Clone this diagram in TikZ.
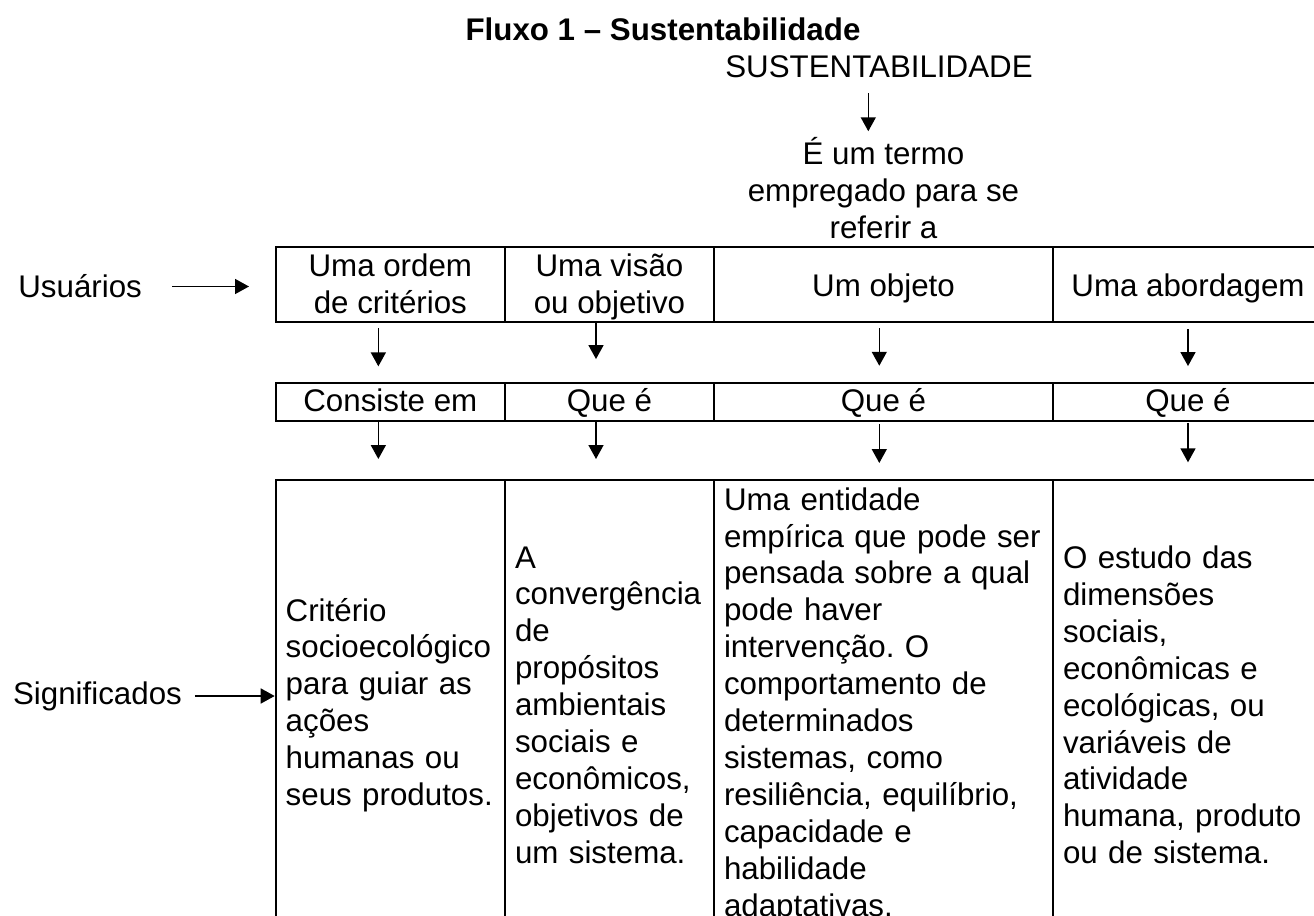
\documentclass[tikz,border=0pt]{standalone}
\usepackage{fontspec}
\setmainfont{Liberation Sans}
\usetikzlibrary{arrows.meta}
\newcommand{\corpo}{\fontsize{15.65}{18.45}\selectfont}
\newcommand{\apoioA}{\rule[-3.4pt]{0pt}{19pt}}
\newcommand{\apoioB}{\rule[-3.4pt]{0pt}{16.3pt}}
\newcommand{\apoioC}{\rule[-3.4pt]{0pt}{17.4pt}}
\hyphenpenalty=10000
\exhyphenpenalty=10000
\frenchspacing

\begin{document}
\begin{tikzpicture}[x=0.5pt,y=-0.5pt,
  celula/.style={draw, line width=1pt, inner sep=0pt, font=\corpo, align=center},
  texto/.style={inner sep=0pt, font=\corpo},
  seta/.style={line width=0.8pt, -{Triangle[length=7pt,width=7.5pt]}}]
\useasboundingbox (0,0) rectangle (1314,916);
\clip (0,0) rectangle (1314,916);

\node[texto, font=\corpo\bfseries, anchor=base] (titulo) at (663,40.5) {Fluxo 1 – Sustentabilidade};
\node[texto, anchor=base] (sust) at (879,77.3) {SUSTENTABILIDADE};
\node[texto, align=center, anchor=south] (termo) at (883.5,239.3) {É um termo\\empregado para se\\referir a};
\draw[seta] ([xshift=-5.35pt,yshift=-7.7pt]sust.south) -- ([xshift=-7.6pt,yshift=3pt]termo.north);

\node[celula, minimum width=114.65pt, minimum height=37.2pt] (u1) at (390.35,284.5) {\apoioC Uma ordem\\de critérios\apoioC};
\node[celula, minimum width=104.5pt, minimum height=37.2pt] (u2) at (609.5,284.5) {\apoioC Uma visão\\ou objetivo\apoioC};
\node[celula, minimum width=169.5pt, minimum height=37.2pt] (u3) at (883.5,284.5) {\apoioA Um objeto};
\node[celula, minimum width=135pt, minimum height=37.2pt] (u4) at (1188,284.5) {\apoioA Uma abordagem};

\node[celula, minimum width=114.65pt, minimum height=18.85pt] (q1) at (390.35,402.2) {\apoioB Consiste em};
\node[celula, minimum width=104.5pt, minimum height=18.85pt] (q2) at (609.5,402.2) {\apoioB Que é};
\node[celula, minimum width=169.5pt, minimum height=18.85pt] (q3) at (883.5,402.2) {\apoioB Que é};
\node[celula, minimum width=135pt, minimum height=18.85pt] (q4) at (1188,402.2) {\apoioB Que é};

\node[celula, align=left, text width=104.65pt, minimum width=114.65pt, minimum height=225pt] (s1) at (390.35,705) {Critério\\socioecológico\\para guiar as\\ações\\humanas ou\\seus produtos.};
\node[celula, align=left, text width=94.5pt, minimum width=104.5pt, minimum height=225pt] (s2) at (609.5,705) {A\\convergência\\de\\propósitos\\ambientais\\sociais e\\econômicos,\\objetivos de\\um sistema.};
\node[celula, align=left, text width=159.5pt, minimum width=169.5pt, minimum height=225pt] (s3) at (883.5,705) {Uma entidade\\empírica que pode ser\\pensada sobre a qual\\pode haver\\intervenção. O\\comportamento de\\determinados\\sistemas, como\\resiliência, equilíbrio,\\capacidade e\\habilidade\\adaptativas.};
\node[celula, align=left, text width=125pt, minimum width=135pt, minimum height=225pt] (s4) at (1188,705) {O estudo das\\dimensões\\sociais,\\econômicas e\\ecológicas, ou\\variáveis de\\atividade\\humana, produto\\ou de sistema.};

\draw[seta] ([xshift=-6pt,yshift=-2.65pt]u1.south) -- ([xshift=-6pt,yshift=8pt]q1.north);
\draw[seta] ([xshift=-6pt,yshift=0.5pt]q1.south) -- ([xshift=-6pt,yshift=10pt]s1.north);
\draw[seta] ([xshift=-6.75pt]u2.south) -- ([xshift=-6.75pt,yshift=11.65pt]q2.north);
\draw[seta] ([xshift=-6.75pt,yshift=0.5pt]q2.south) -- ([xshift=-6.75pt,yshift=10pt]s2.north);
\draw[seta] ([xshift=-2.1pt,yshift=-2.65pt]u3.south) -- ([xshift=-2.1pt,yshift=8.3pt]q3.north);
\draw[seta] ([xshift=-2.1pt,yshift=-0.85pt]q3.south) -- ([xshift=-2.1pt,yshift=8pt]s3.north);
\draw[seta] ([yshift=-3.15pt]u4.south) -- ([yshift=8.15pt]q4.north);
\draw[seta] ([yshift=-0.35pt]q4.south) -- ([yshift=8.35pt]s4.north);

\node[texto, anchor=west] (usu) at (18,286.5) {Usuários};
\draw[seta] ([xshift=14.85pt]usu.east) -- ([xshift=-12.85pt]usu.east -| u1.west);
\node[texto, anchor=west] (sig) at (12.7,696) {Significados};
\draw[seta] ([xshift=6.3pt]sig.east) -- (sig.east -| s1.west);

\end{tikzpicture}
\end{document}
